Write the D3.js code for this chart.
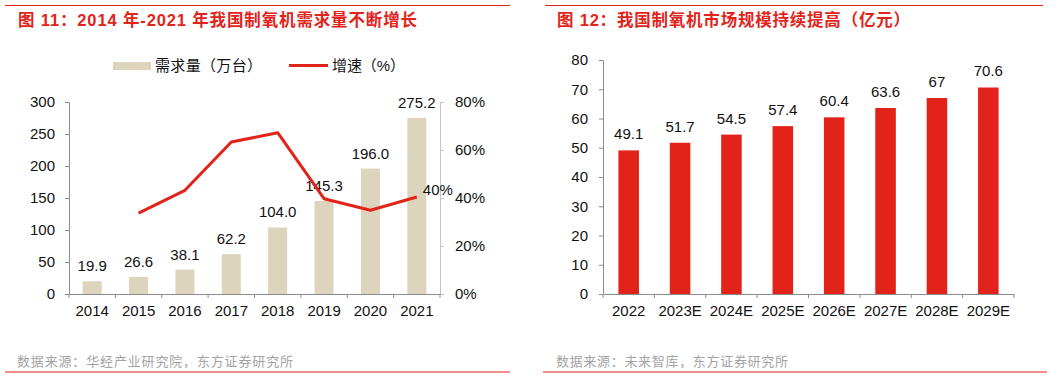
<!DOCTYPE html>
<html><head><meta charset="utf-8">
<script src="https://cdn.jsdelivr.net/npm/d3@7"></script>
<style>
body{margin:0;background:#fff;}
svg{display:block;font-family:"Liberation Sans",Arial,"Noto Sans CJK SC",sans-serif;}
.cjk{font-family:"Liberation Sans","Noto Sans CJK SC",sans-serif;}
</style></head><body>
<svg id="c" width="1061" height="379"></svg>
<script>
// ---- data ----
const years1 = ["2014","2015","2016","2017","2018","2019","2020","2021"];
const demand = [19.9, 26.6, 38.1, 62.2, 104.0, 145.3, 196.0, 275.2];
const growthYears = ["2015","2016","2017","2018","2019","2020","2021"];
const growth = [33.7, 43.2, 63.3, 67.2, 39.7, 34.9, 40.4];
const leftTicks1 = [0,50,100,150,200,250,300];
const rightTicks1 = [0,20,40,60,80];

const years2 = ["2022","2023E","2024E","2025E","2026E","2027E","2028E","2029E"];
const market = [49.1, 51.7, 54.5, 57.4, 60.4, 63.6, 67, 70.6];
const marketLabels = ["49.1","51.7","54.5","57.4","60.4","63.6","67","70.6"];
const ticks2 = [0,10,20,30,40,50,60,70,80];

const title1 = "图 11：2014 年-2021 年我国制氧机需求量不断增长";
const title2 = "图 12：我国制氧机市场规模持续提高（亿元）";
const source1 = "数据来源：华经产业研究院，东方证券研究所";
const source2 = "数据来源：未来智库，东方证券研究所";
const legend1 = ["需求量（万台）","增速（%）"];

const RED = "#e2231a", BEIGE = "#ddd4bd", AXIS = "#8c8c8c";
const svg = d3.select("#c");

function frame(x0, x1, titleX, title, titleW, source, srcX, srcW, lineX0, lineX1){
  svg.append("line").attr("x1",lineX0).attr("x2",lineX1).attr("y1",5.5).attr("y2",5.5)
    .attr("stroke",RED).attr("stroke-width",1.2);
  svg.append("text").attr("class","cjk").attr("x",titleX).attr("y",26)
    .attr("font-size",16.5).attr("font-weight","bold").attr("fill",RED)
    .attr("textLength",titleW).attr("lengthAdjust","spacing").text(title);
  svg.append("text").attr("class","cjk").attr("x",srcX).attr("y",366)
    .attr("font-size",13).attr("fill","#a3a3a3")
    .attr("textLength",srcW).attr("lengthAdjust","spacing").text(source);
  svg.append("line").attr("x1",x0).attr("x2",x1).attr("y1",372).attr("y2",372)
    .attr("stroke",RED).attr("stroke-width",1.2);
}
frame(5, 510, 18, title1, 399, source1, 17, 276, 5, 510);
frame(543, 1047, 557, title2, 353, source2, 556, 232, 545, 1043);

function styleAxis(g, color){
  g.selectAll("path,line").attr("stroke",color);
  g.selectAll("text").attr("font-size",15).attr("fill","#111")
   .attr("font-family","'Liberation Sans',Arial,sans-serif");
}

// ---- chart 1 ----
{
  const x = d3.scaleBand().domain(years1).range([69,440]).paddingInner(0.59).paddingOuter(0.295);
  const y = d3.scaleLinear().domain([0,300]).range([294,102]);
  const y2 = d3.scaleLinear().domain([0,80]).range([294,102]);
  const g = svg.append("g");

  g.selectAll("rect.b").data(demand).join("rect").attr("class","b")
    .attr("x",(d,i)=>x(years1[i])).attr("width",x.bandwidth())
    .attr("y",d=>y(d)).attr("height",d=>y(0)-y(d)).attr("fill",BEIGE);

  const ax = g.append("g").attr("transform","translate(69,0)")
    .call(d3.axisLeft(y).tickValues(leftTicks1).tickSize(4).tickSizeOuter(0).tickPadding(10));
  styleAxis(ax, AXIS);
  const ax2 = g.append("g").attr("transform","translate(440,0)")
    .call(d3.axisRight(y2).tickValues(rightTicks1).tickSize(4).tickSizeOuter(0).tickPadding(11).tickFormat(d=>d+"%"));
  styleAxis(ax2, "#c4c4c4");
  const bx = g.append("g").attr("transform","translate(0,294)")
    .call(d3.axisBottom(x).tickSize(0).tickSizeOuter(0).tickPadding(11));
  styleAxis(bx, AXIS);
  bx.selectAll("text").attr("dy","0.71em");
  g.selectAll("line.bt").data(d3.range(years1.length+1)).join("line").attr("class","bt")
    .attr("x1",i=>x.range()[0]+i*x.step()).attr("x2",i=>x.range()[0]+i*x.step())
    .attr("y1",294).attr("y2",298).attr("stroke",AXIS);

  g.selectAll("text.v").data(demand).join("text").attr("class","v")
    .attr("x",(d,i)=>x(years1[i])+x.bandwidth()/2).attr("y",d=>y(d)-10)
    .attr("text-anchor","middle").attr("font-size",15).attr("fill","#111")
    .text(d=>d.toFixed(1));

  const line = d3.line().x((d,i)=>x(growthYears[i])+x.bandwidth()/2).y(d=>y2(d));
  g.append("path").datum(growth).attr("d",line).attr("fill","none")
    .attr("stroke",RED).attr("stroke-width",3).attr("stroke-linejoin","round");
  const li = growth.length-1;
  g.append("text").attr("x",x(growthYears[li])+x.bandwidth()/2+6).attr("y",y2(growth[li])-2)
    .attr("font-size",15).attr("fill","#111").text(Math.round(growth[li])+"%");

  svg.append("rect").attr("x",113).attr("y",62).attr("width",38).attr("height",8).attr("fill",BEIGE);
  svg.append("text").attr("class","cjk").attr("x",155).attr("y",71).attr("font-size",15).attr("fill","#111")
    .attr("textLength",107).attr("lengthAdjust","spacing").text(legend1[0]);
  svg.append("line").attr("x1",289).attr("x2",328).attr("y1",65.5).attr("y2",65.5).attr("stroke",RED).attr("stroke-width",3);
  svg.append("text").attr("class","cjk").attr("x",332).attr("y",71).attr("font-size",15).attr("fill","#111")
    .attr("textLength",73).attr("lengthAdjust","spacing").text(legend1[1]);
}

// ---- chart 2 ----
{
  const x = d3.scaleBand().domain(years2).range([603,1014]).paddingInner(0.6).paddingOuter(0.3);
  const y = d3.scaleLinear().domain([0,80]).range([294,60]);
  const g = svg.append("g");
  g.selectAll("rect.b").data(market).join("rect").attr("class","b")
    .attr("x",(d,i)=>x(years2[i])).attr("width",x.bandwidth())
    .attr("y",d=>y(d)).attr("height",d=>y(0)-y(d)).attr("fill",RED);

  const ax = g.append("g").attr("transform","translate(603,0)")
    .call(d3.axisLeft(y).tickValues(ticks2).tickSize(4).tickSizeOuter(0).tickPadding(11));
  styleAxis(ax, AXIS);
  const bx = g.append("g").attr("transform","translate(0,294)")
    .call(d3.axisBottom(x).tickSize(0).tickSizeOuter(0).tickPadding(11));
  styleAxis(bx, AXIS);
  bx.selectAll("text").attr("dy","0.71em");
  g.selectAll("line.bt").data(d3.range(years2.length+1)).join("line").attr("class","bt")
    .attr("x1",i=>x.range()[0]+i*x.step()).attr("x2",i=>x.range()[0]+i*x.step())
    .attr("y1",294).attr("y2",298).attr("stroke",AXIS);

  g.selectAll("text.v").data(market).join("text").attr("class","v")
    .attr("x",(d,i)=>x(years2[i])+x.bandwidth()/2).attr("y",d=>y(d)-11)
    .attr("text-anchor","middle").attr("font-size",15).attr("fill","#111")
    .text((d,i)=>marketLabels[i]);
}
</script>
</body></html>
